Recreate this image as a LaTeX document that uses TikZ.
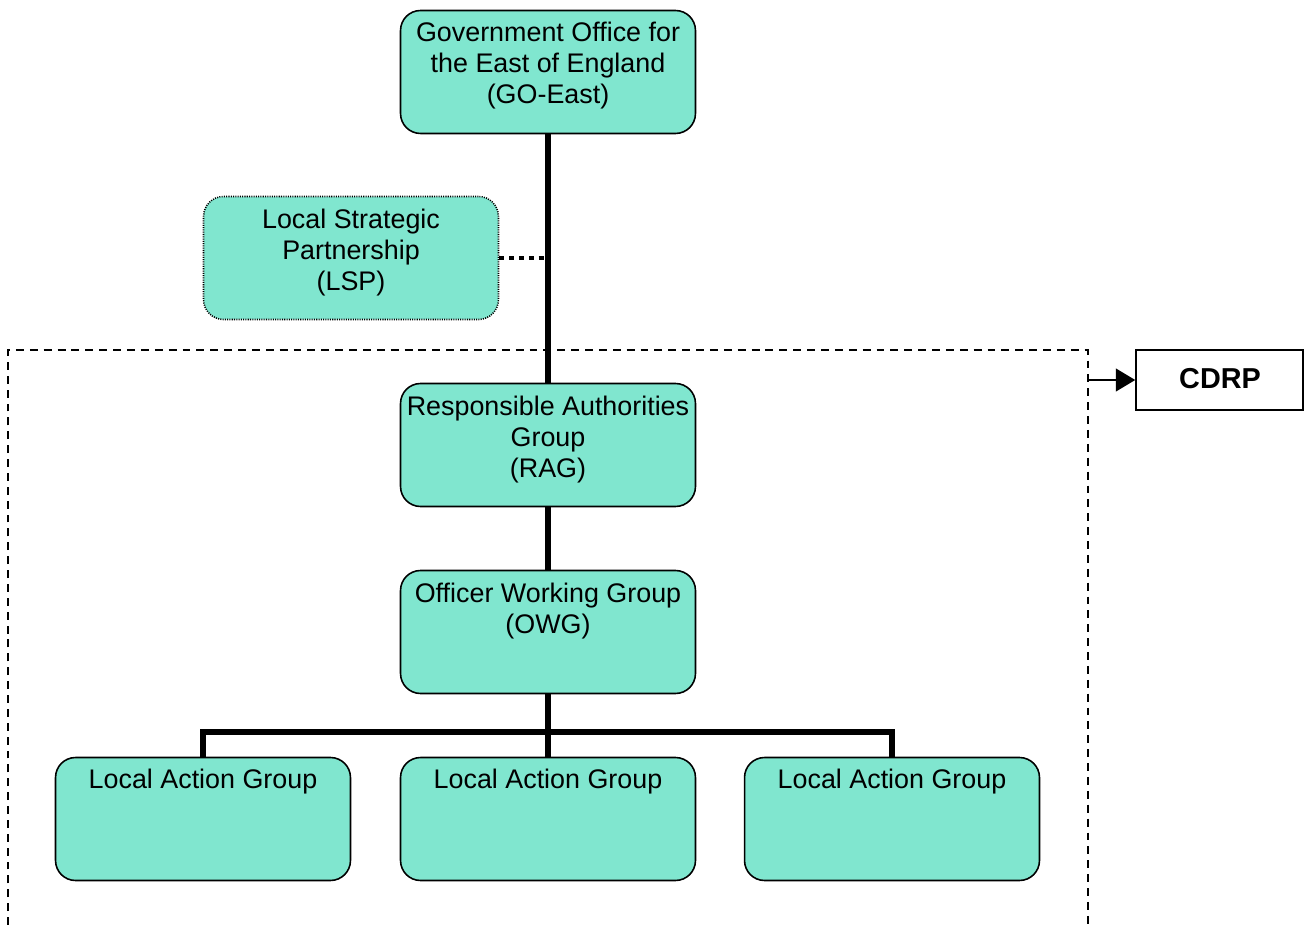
\documentclass[tikz,border=0pt]{standalone}
\usepackage{fontspec}
\setmainfont{Liberation Sans}
\usetikzlibrary{arrows.meta,calc}
\definecolor{boxfill}{RGB}{128,230,207}
\tikzset{
    group/.style = {draw, rectangle, rounded corners=0.4cm, fill=boxfill,
        line width=0.9pt, inner sep=0pt,
        minimum width=5.9cm, minimum height=2.46cm},
    txt/.style = {align=center, anchor=base, inner sep=0pt,
        font=\fontsize{15.3}{17.6}\selectfont},
    link/.style = {draw, line width=2.9pt},
    dotlink/.style = {draw, line width=2.8pt, dash pattern=on 2.8pt off 2.8pt},
    arrow/.style = {draw, line width=0.8pt, -{Triangle[length=11pt,width=13pt]}}
}

\begin{document}
\begin{tikzpicture}[x=0.02cm, y=-0.02cm]
    \useasboundingbox (0,0) rectangle (1304,925);
    % CDRP boundary
    \draw [line width=0.8pt, dash pattern=on 4.5pt off 3.4pt]
        (8,925) -- (8,350) -- (1088,350) -- (1088,925);
    \node[draw, rectangle, line width=0.9pt, minimum width=3.34cm, minimum height=1.2cm] (cdrp) at (1219.5,380) {};
    \node[txt, font=\fontsize{16.4}{18}\selectfont\bfseries] (cdrptxt) at (1220,389) {CDRP};
    \coordinate (tap) at (1088,380);
    \draw [arrow] (tap) -- (cdrp);

    \node[group] (go)  at (548,72)  {};
    \node[group, dash pattern=on 0.6pt off 0.7pt] (lsp) at (351,258) {};
    \node[group] (rag) at (548,445) {};
    \node[group] (owg) at (548,632) {};
    \node[group] (lag1) at (203,819) {};
    \node[group] (lag2) at (548,819) {};
    \node[group] (lag3) at (892,819) {};

    % text sits on the baseline of its last line
    \node[txt] (gotxt)  at (548,103.5) {Government Office for\\the East of England\\(GO-East)};
    \node[txt] (lsptxt) at (351,290.5) {Local Strategic\\Partnership\\(LSP)};
    \node[txt] (ragtxt) at (548,477.5) {Responsible Authorities\\Group\\(RAG)};
    \node[txt] (owgtxt) at (548,633.5) {Officer Working Group\\(OWG)};
    \node[txt] (lag1txt) at (203,788.5) {Local Action Group};
    \node[txt] (lag2txt) at (548,788.5) {Local Action Group};
    \node[txt] (lag3txt) at (892,788.5) {Local Action Group};

    \coordinate (bar) at (548,732);
    \draw [link] (go) -- (rag);
    \draw [link] (rag) -- (owg);
    \draw [link] (owg) -- (lag2);
    \draw [link] (lag1) |- (bar) -| (lag3);
    \draw [dotlink] (lsp.east) -- (lsp.east -| go.south);
\end{tikzpicture}
\end{document}
